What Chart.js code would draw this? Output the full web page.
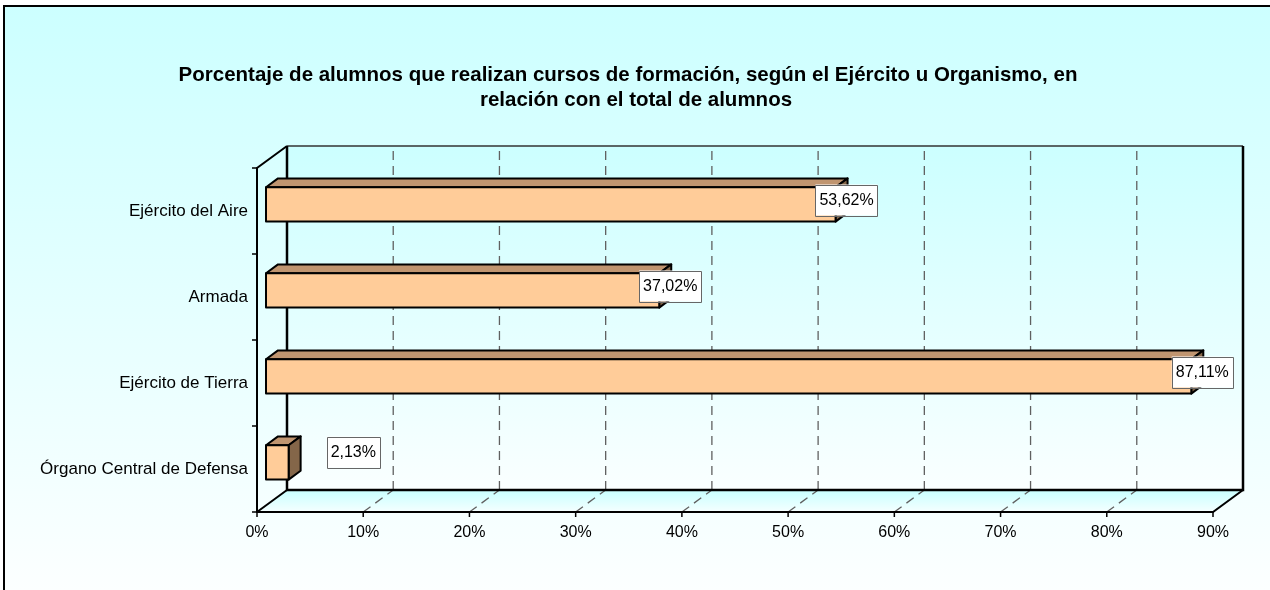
<!DOCTYPE html>
<html>
<head>
<meta charset="utf-8">
<script src="https://cdn.jsdelivr.net/npm/chart.js@4"></script>
<style>
html,body{margin:0;padding:0;background:#fff;}
#wrap{width:1270px;height:590px;}
</style>
</head>
<body>
<div id="wrap"><canvas id="c" width="1270" height="590"></canvas></div>
<script>
const titleLines = ['Porcentaje de alumnos que realizan cursos de formación, según el Ejército u Organismo, en', 'relación con el total de alumnos'];
const categories = ['Ejército del Aire', 'Armada', 'Ejército de Tierra', 'Órgano Central de Defensa'];
const values = [53.62, 37.02, 87.11, 2.13];
const valueLabels = ['53,62%', '37,02%', '87,11%', '2,13%'];
const xMin = 0, xMax = 90, xStep = 10;

const FONT = '"Liberation Sans", Arial, sans-serif';
const DEPTH = {x: 30, y: -22};
const F1 = 0.3, F2 = 0.7;

const bgPlugin = {
  id: 'bg3d',
  beforeDraw(chart) {
    const ctx = chart.ctx;
    ctx.save();
    ctx.fillStyle = '#ffffff';
    ctx.fillRect(0, 0, chart.width, chart.height);
    const g = ctx.createLinearGradient(0, 5, 0, 590);
    g.addColorStop(0, 'rgb(204,255,255)');
    g.addColorStop(1, 'rgb(252,255,255)');
    ctx.fillStyle = g;
    ctx.fillRect(4, 6, chart.width, chart.height);
    ctx.strokeStyle = '#000';
    ctx.lineWidth = 2;
    ctx.beginPath();
    ctx.moveTo(4, 590); ctx.lineTo(4, 6); ctx.lineTo(1270, 6);
    ctx.stroke();
    // title
    ctx.fillStyle = '#000';
    ctx.font = 'bold 20.5px ' + FONT;
    ctx.textAlign = 'center';
    ctx.textBaseline = 'middle';
    ctx.fillText(titleLines[0], 628, 75);
    ctx.fillText(titleLines[1], 636, 100);
    ctx.restore();
  },
  beforeDatasetsDraw(chart) {
    const ctx = chart.ctx;
    const a = chart.chartArea;
    const xs = chart.scales.x;
    const L = a.left, R = a.right, T = a.top, B = a.bottom;
    const dx = DEPTH.x, dy = DEPTH.y;
    ctx.save();
    // back wall
    const gw = ctx.createLinearGradient(0, T + dy, 0, B + dy);
    gw.addColorStop(0, 'rgb(204,255,255)');
    gw.addColorStop(1, 'rgb(250,255,255)');
    ctx.fillStyle = gw;
    ctx.fillRect(L + dx, T + dy, R - L, B - T);
    // floor
    const gf = ctx.createLinearGradient(0, B + dy, 0, B);
    gf.addColorStop(0, 'rgb(200,255,255)');
    gf.addColorStop(1, 'rgb(245,255,255)');
    ctx.fillStyle = gf;
    ctx.beginPath();
    ctx.moveTo(L, B); ctx.lineTo(R, B); ctx.lineTo(R + dx, B + dy); ctx.lineTo(L + dx, B + dy); ctx.closePath();
    ctx.fill();
    // dashed gridlines
    ctx.strokeStyle = '#606060';
    ctx.lineWidth = 1.3;
    ctx.setLineDash([9, 6]);
    for (let v = xMin + xStep; v < xMax; v += xStep) {
      const px = xs.getPixelForValue(v);
      ctx.beginPath();
      ctx.moveTo(px + dx, B + dy);
      ctx.lineTo(px + dx, T + dy);
      ctx.stroke();
      ctx.beginPath();
      ctx.moveTo(px, B);
      ctx.lineTo(px + dx, B + dy);
      ctx.stroke();
    }
    ctx.setLineDash([]);
    // back wall top edge
    ctx.strokeStyle = '#333';
    ctx.lineWidth = 1.5;
    ctx.beginPath();
    ctx.moveTo(L + dx, T + dy); ctx.lineTo(R + dx, T + dy);
    ctx.stroke();
    // solid frame lines
    ctx.strokeStyle = '#000';
    ctx.lineWidth = 2.5;
    ctx.lineJoin = 'miter';
    ctx.beginPath();
    ctx.moveTo(R + dx, T + dy); ctx.lineTo(R + dx, B + dy); ctx.lineTo(L + dx, B + dy); ctx.lineTo(L + dx, T + dy);
    ctx.stroke();
    ctx.lineWidth = 2;
    ctx.beginPath();
    ctx.moveTo(L + dx, T + dy); ctx.lineTo(L, T); ctx.lineTo(L, B); ctx.lineTo(R, B); ctx.lineTo(R + dx, B + dy);
    ctx.moveTo(L, B); ctx.lineTo(L + dx, B + dy);
    ctx.stroke();
    // tick marks
    ctx.lineWidth = 1.5;
    ctx.beginPath();
    for (let v = xMin; v <= xMax; v += xStep) {
      const px = xs.getPixelForValue(v);
      ctx.moveTo(px, B); ctx.lineTo(px, B + 5);
    }
    const n = categories.length;
    const band = (B - T) / n;
    for (let i = 0; i <= n; i++) {
      const py = T + band * i;
      ctx.moveTo(L - 5, py); ctx.lineTo(L, py);
    }
    ctx.stroke();
    ctx.restore();
  },
  afterDatasetsDraw(chart) {
    const ctx = chart.ctx;
    const meta = chart.getDatasetMeta(0);
    const a = chart.chartArea;
    const d1x = DEPTH.x * F1, d1y = DEPTH.y * F1;
    const d2x = DEPTH.x * F2, d2y = DEPTH.y * F2;
    ctx.save();
    ctx.lineJoin = 'round';
    ctx.strokeStyle = '#000';
    ctx.lineWidth = 2;
    meta.data.forEach((bar) => {
      const h = bar.height;
      const x0 = bar.base, x1 = bar.x;
      const t1 = bar.y - h / 2 + d1y, b1 = bar.y + h / 2 + d1y;
      const t2 = bar.y - h / 2 + d2y, b2 = bar.y + h / 2 + d2y;
      // top face
      ctx.fillStyle = '#C09570';
      ctx.beginPath();
      ctx.moveTo(x0 + d1x, t1); ctx.lineTo(x1 + d1x, t1); ctx.lineTo(x1 + d2x, t2); ctx.lineTo(x0 + d2x, t2); ctx.closePath();
      ctx.fill(); ctx.stroke();
      // side face
      ctx.fillStyle = '#846649';
      ctx.beginPath();
      ctx.moveTo(x1 + d1x, t1); ctx.lineTo(x1 + d2x, t2); ctx.lineTo(x1 + d2x, b2); ctx.lineTo(x1 + d1x, b1); ctx.closePath();
      ctx.fill(); ctx.stroke();
      // front face
      ctx.fillStyle = '#FFCC99';
      ctx.beginPath();
      ctx.rect(x0 + d1x, t1, x1 - x0, b1 - t1);
      ctx.fill(); ctx.stroke();
    });
    // value labels
    ctx.font = '16px ' + FONT;
    ctx.textAlign = 'center';
    ctx.textBaseline = 'middle';
    meta.data.forEach((bar, i) => {
      const txt = valueLabels[i];
      const w = ctx.measureText(txt).width + 8;
      const hh = 31;
      let cx = bar.x + DEPTH.x * 0.5 + 5;
      let cy = bar.y - 11;
      if (cx - w / 2 < a.left + DEPTH.x + 10) {
        cx = bar.x + d2x + 26 + w / 2;
        cy = bar.y - 17;
      }
      ctx.fillStyle = '#fff';
      ctx.fillRect(cx - w / 2, cy - hh / 2, w, hh);
      ctx.strokeStyle = '#666';
      ctx.lineWidth = 1;
      ctx.strokeRect(Math.round(cx - w / 2) + 0.5, Math.round(cy - hh / 2) + 0.5, Math.round(w), hh);
      ctx.fillStyle = '#000';
      ctx.fillText(txt, cx, cy + 1);
    });
    ctx.restore();
  }
};

new Chart(document.getElementById('c'), {
  type: 'bar',
  data: {
    labels: categories,
    datasets: [{
      data: values,
      backgroundColor: 'rgba(0,0,0,0)',
      borderWidth: 0,
      barPercentage: 0.4,
      categoryPercentage: 1.0
    }]
  },
  options: {
    indexAxis: 'y',
    responsive: false,
    animation: false,
    events: [],
    layout: {padding: {top: 168, right: 57, left: 0, bottom: 0}},
    plugins: {legend: {display: false}, tooltip: {enabled: false}, title: {display: false}},
    scales: {
      x: {
        min: xMin, max: xMax,
        border: {display: false},
        grid: {display: false, drawTicks: false},
        ticks: {stepSize: xStep, padding: 11, color: '#000', font: {family: FONT, size: 16}, maxRotation: 0,
          callback: (v) => v + '%'},
        afterFit: (s) => { s.height = 78; }
      },
      y: {
        border: {display: false},
        grid: {display: false, drawTicks: false},
        ticks: {padding: 9, color: '#000', font: {family: FONT, size: 17}},
        afterFit: (s) => { s.width = 257; }
      }
    }
  },
  plugins: [bgPlugin]
});
</script>
</body>
</html>
